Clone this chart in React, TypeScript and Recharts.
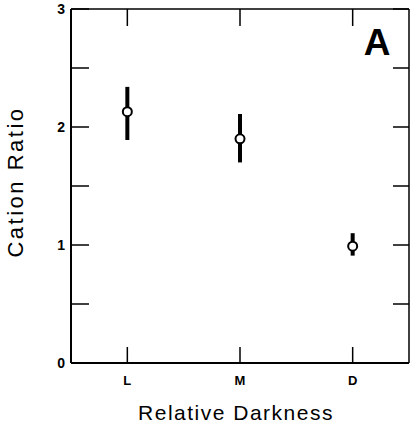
import React from "react";
import { ScatterChart, Scatter, XAxis, YAxis, ErrorBar } from "recharts";

const categories = ["L", "M", "D"];
const positions = [1, 2, 3];
const means = [2.13, 1.9, 0.99];
const upper = [2.34, 2.11, 1.1];
const lower = [1.89, 1.7, 0.91];
const yTicks = [0, 0.5, 1, 1.5, 2, 2.5, 3];
const yTickLabels: Record<number, string> = { 0: "0", 1: "1", 2: "2", 3: "3" };

const data = positions.map((p, i) => ({
  x: p,
  y: means[i],
  err: [means[i] - lower[i], upper[i] - means[i]],
}));

const FONT = "'Liberation Sans', Arial, Helvetica, sans-serif";

const BottomTick = (props: any) => {
  const { x, y, payload } = props;
  const label = categories[positions.indexOf(payload.value)] ?? "";
  return (
    <g>
      <line x1={x} y1={y} x2={x} y2={y - 16} stroke="#000" strokeWidth={1.5} />
      <text x={x} y={y + 22} textAnchor="middle" fontFamily={FONT} fontWeight="bold" fontSize={13} fill="#000">
        {label}
      </text>
    </g>
  );
};

const TopTick = (props: any) => {
  const { x, y } = props;
  return <line x1={x} y1={y} x2={x} y2={y + 17} stroke="#000" strokeWidth={1.5} />;
};

const LeftTick = (props: any) => {
  const { x, y, payload } = props;
  const label = yTickLabels[payload.value] ?? "";
  return (
    <g>
      <line x1={x} y1={y} x2={x + 18} y2={y} stroke="#000" strokeWidth={1.5} />
      <text x={x - 6} y={y + 5} textAnchor="end" fontFamily={FONT} fontWeight="bold" fontSize={14} fill="#000">
        {label}
      </text>
    </g>
  );
};

const RightTick = (props: any) => {
  const { x, y } = props;
  return <line x1={x} y1={y} x2={x - 16} y2={y} stroke="#000" strokeWidth={1.5} />;
};

const Dot = (props: any) => {
  const { cx, cy } = props;
  return <circle cx={cx} cy={cy} r={4.5} fill="#fff" stroke="#000" strokeWidth={2} />;
};

const Empty = () => <g />;

export default function App() {
  return (
    <div style={{ position: "absolute", left: 0, top: 0, background: "#fff" }}>
      <ScatterChart width={411} height={431} margin={{ top: 8, right: 1, left: 0, bottom: 0 }}>
        <XAxis
          xAxisId="bottom"
          dataKey="x"
          type="number"
          domain={[0.5, 3.5]}
          ticks={positions}
          height={68}
          axisLine={{ stroke: "#000", strokeWidth: 2 }}
          tickLine={false}
          tickSize={0}
          tickMargin={0}
          tick={<BottomTick />}
          label={(p: any) => {
            const vb = p.viewBox;
            return (
              <text
                x={vb.x + vb.width / 2 - 4}
                y={vb.y + 57}
                textAnchor="middle"
                fontFamily={FONT}
                fontSize={21}
                letterSpacing={1.5}
                fill="#000"
              >
                Relative Darkness
              </text>
            );
          }}
        />
        <XAxis
          xAxisId="top"
          dataKey="x"
          type="number"
          orientation="top"
          domain={[0.5, 3.5]}
          ticks={positions}
          height={1}
          axisLine={{ stroke: "#000", strokeWidth: 1.5 }}
          tickLine={false}
          tickSize={0}
          tickMargin={0}
          tick={<TopTick />}
        />
        <YAxis
          yAxisId="left"
          dataKey="y"
          type="number"
          domain={[0, 3]}
          ticks={yTicks}
          width={71}
          axisLine={{ stroke: "#000", strokeWidth: 2 }}
          tickLine={false}
          tickSize={0}
          tickMargin={0}
          tick={<LeftTick />}
          label={(p: any) => {
            const vb = p.viewBox;
            const cx = 23;
            const cy = vb.y + vb.height / 2 - 4;
            return (
              <text
                x={cx}
                y={cy}
                transform={`rotate(-90, ${cx}, ${cy})`}
                textAnchor="middle"
                fontFamily={FONT}
                fontSize={22}
                letterSpacing={2.5}
                fill="#000"
              >
                Cation Ratio
              </text>
            );
          }}
        />
        <YAxis
          yAxisId="right"
          dataKey="y"
          type="number"
          orientation="right"
          domain={[0, 3]}
          ticks={yTicks}
          width={1}
          axisLine={{ stroke: "#000", strokeWidth: 1.5 }}
          tickLine={false}
          tickSize={0}
          tickMargin={0}
          tick={<RightTick />}
          label={(p: any) => {
            const vb = p.viewBox;
            return (
              <text
                x={vb.x - 32}
                y={55}
                textAnchor="middle"
                fontFamily={FONT}
                fontWeight="bold"
                fontSize={37}
                fill="#000"
              >
                A
              </text>
            );
          }}
        />
        <Scatter xAxisId="top" yAxisId="right" data={data} shape={<Empty />} isAnimationActive={false} />
        <Scatter xAxisId="bottom" yAxisId="left" data={data} shape={<Dot />} isAnimationActive={false}>
          <ErrorBar dataKey="err" direction="y" width={0} strokeWidth={4} stroke="#000" isAnimationActive={false} />
        </Scatter>
      </ScatterChart>
    </div>
  );
}
